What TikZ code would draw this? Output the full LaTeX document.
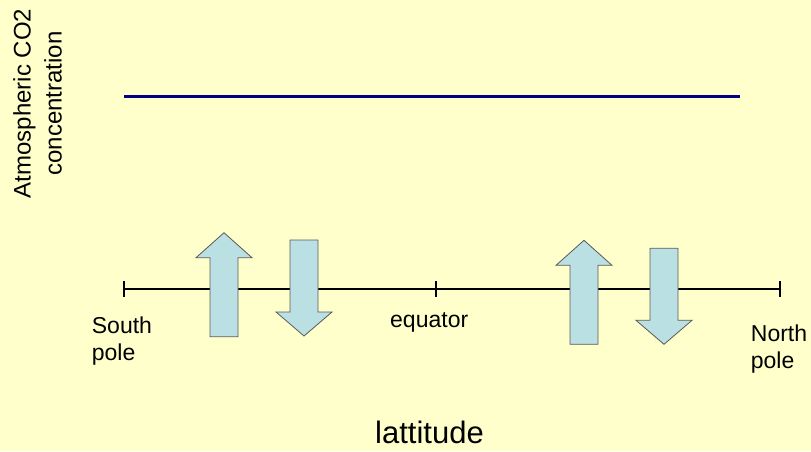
\documentclass[tikz,border=0pt]{standalone}
\usepackage{fontspec}
\setmainfont{Liberation Sans}
\usetikzlibrary{positioning, calc}
\definecolor{paper}{HTML}{FFFFCC}
\definecolor{fluxblue}{HTML}{BBE0E3}
\definecolor{co2navy}{HTML}{000080}

\begin{document}
\begin{tikzpicture}[x=1pt, y=-1pt, font=\fontsize{23}{27}\selectfont,
    flux/.style={fill=fluxblue, draw=black!65, line width=0.8pt},
    lbl/.style={inner sep=0pt, align=left, anchor=base west},
    uparr/.pic={\path[flux] (-14,0) -- (-14,-79) -- (-28,-79) -- (0,-104) -- (28,-79) -- (14,-79) -- (14,0) -- cycle;},
    downarr/.pic={\path[flux] (-14,0) -- (14,0) -- (14,72) -- (28,72) -- (0,96) -- (-28,72) -- (-14,72) -- cycle;}]
    \fill[paper] (0,0) rectangle (811,451);
    \useasboundingbox (0,0) rectangle (811,451);
    % CO2 level
    \coordinate (co2w) at (124,96);
    \coordinate (co2e) at (740,96);
    \draw[co2navy, line width=3pt] (co2w) -- (co2e);
    % latitude axis
    \coordinate (sp) at (124,289);
    \coordinate (eq) at (436,289);
    \coordinate (np) at (780,289);
    \draw[line width=2.5pt] (sp) -- (np);
    \foreach \t in {sp, eq, np}
        \draw[line width=2.2pt] ($(\t)+(0,-8)$) -- ($(\t)+(0,8)$);
    % fluxes
    \pic at (224,336.7) {uparr};
    \pic at (304,240) {downarr};
    \pic at (584,344.3) {uparr};
    \pic at (664,248.3) {downarr};
    % labels (base = last line)
    \node[lbl] (south) at (91.7,360.5) {South\\pole};
    \node[lbl] (equator) at (390,327.7) {equator};
    \node[lbl] (north) at (750.7,368.5) {North\\pole};
    \node[inner sep=0pt, anchor=base, font=\fontsize{31}{36}\selectfont] (xlabel) at (429.5,443) {lattitude};
    \node[inner sep=0pt, align=center, rotate=90, font=\fontsize{24}{31}\selectfont] (ylabel) at (37.5,103.5) {Atmospheric CO2\\concentration};
\end{tikzpicture}
\end{document}
